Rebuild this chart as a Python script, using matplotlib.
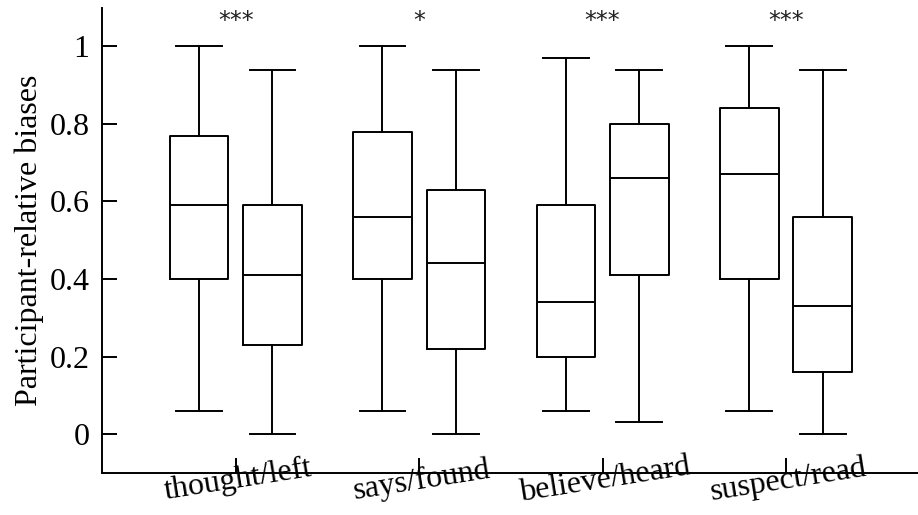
import matplotlib
matplotlib.use("Agg")
import matplotlib.pyplot as plt

plt.rcParams['font.family'] = ['Liberation Serif', 'DejaVu Serif']

groups = ["thought/left", "says/found", "believe/heard", "suspect/read"]
stars = ["***", "*", "***", "***"]

# per box: whisker low, q1, median, q3, whisker high
first_stats = [
    (0.06, 0.40, 0.59, 0.77, 1.00),
    (0.06, 0.40, 0.56, 0.78, 1.00),
    (0.06, 0.20, 0.34, 0.59, 0.97),
    (0.06, 0.40, 0.67, 0.84, 1.00),
]
second_stats = [
    (0.00, 0.23, 0.41, 0.59, 0.94),
    (0.00, 0.22, 0.44, 0.63, 0.94),
    (0.03, 0.41, 0.66, 0.80, 0.94),
    (0.00, 0.16, 0.33, 0.56, 0.94),
]


def to_bxp(s):
    lo, q1, med, q3, hi = s
    return dict(whislo=lo, q1=q1, med=med, q3=q3, whishi=hi, fliers=[])


fig, ax = plt.subplots(figsize=(9.18, 5.15), dpi=100)

lw = 1.4
stats = []
positions = []
for i in range(len(groups)):
    stats.append(to_bxp(first_stats[i]))
    positions.append(i - 0.2)
    stats.append(to_bxp(second_stats[i]))
    positions.append(i + 0.2)

ax.bxp(stats, positions=positions, widths=0.32, showfliers=False,
       boxprops=dict(color="black", linewidth=lw),
       medianprops=dict(color="black", linewidth=lw),
       whiskerprops=dict(color="black", linewidth=lw),
       capprops=dict(color="black", linewidth=lw),
       capwidths=0.25, manage_ticks=False)

for i, s in enumerate(stars):
    ax.text(i, 1.065, s, ha="center", va="center", fontsize=17,
            fontfamily="DejaVu Sans", color="#222222")

ax.set_xlim(-0.73, 3.72)
ax.set_ylim(-0.1, 1.1)
ax.set_yticks([0, 0.2, 0.4, 0.6, 0.8, 1])
ax.set_yticklabels(["0", "0.2", "0.4", "0.6", "0.8", "1"])
ax.set_xticks(range(len(groups)))
ax.set_xticklabels(groups, rotation=9, ha="center", va="top",
                   rotation_mode="anchor")

ax.tick_params(axis="both", direction="in", length=11, width=lw,
               labelsize=23)
ax.tick_params(axis="x", pad=-5)
ax.tick_params(axis="y", pad=9)
ax.set_ylabel("Participant-relative biases", fontsize=23)

for side in ["top", "right"]:
    ax.spines[side].set_visible(False)
for side in ["left", "bottom"]:
    ax.spines[side].set_linewidth(lw)

fig.subplots_adjust(left=0.111, right=1.0, top=0.985, bottom=0.082)
fig.savefig("out.png", dpi=100)
